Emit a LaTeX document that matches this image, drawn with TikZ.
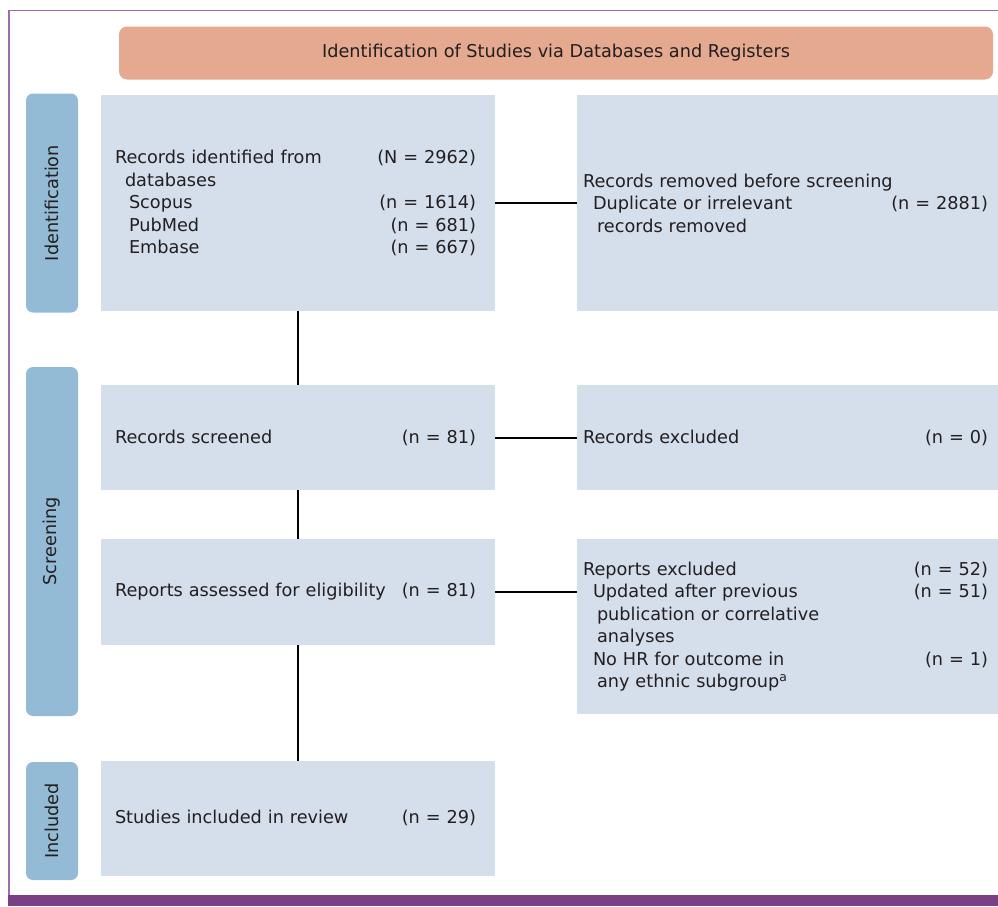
\documentclass[tikz,border=0pt]{standalone}
\usepackage{fontspec}
\setmainfont{DejaVu Sans}
\definecolor{txt}{HTML}{231F20}
\definecolor{orangebox}{HTML}{E4A98F}
\definecolor{lightbox}{HTML}{D5DFEC}
\definecolor{sidebox}{HTML}{93BBD5}
\definecolor{purplebar}{HTML}{7B3F85}
\definecolor{purpleline}{HTML}{9E6CA8}
\tikzset{
  base/.style={inner sep=0pt, outer sep=0pt, text=txt, font=\fontsize{17.7}{22.5}\selectfont},
  lbox/.style={base, fill=lightbox, draw=none},
  sbox/.style={base, fill=sidebox, draw=none, rounded corners=7pt},
  tbox/.style={base, fill=orangebox, draw=none, rounded corners=8pt},
  ltext/.style={base, anchor=west, align=left, text width=361pt},
  rtext/.style={base, anchor=west, align=left, text width=405pt},
  sidelabel/.style={base, rotate=90},
  conn/.style={draw=black, line width=2pt},
}
\begin{document}
\begin{tikzpicture}[x=1pt, y=-1pt]
\useasboundingbox (0,0) rectangle (998,906);
% frame
\draw[purpleline, line width=1.5pt] (9,896) -- (9,10.5) -- (998,10.5);
\fill[purplebar] (8,895) rectangle (998,906);
% title
\node[tbox, minimum width=874pt, minimum height=53pt] (title) at (556,53) {Identification of Studies via Databases and Registers};
% side labels
\node[sbox, minimum width=52pt, minimum height=219pt] (s1) at (52,203) {};
\node[sidelabel] (s1t) at (s1.center) {Identification};
\node[sbox, minimum width=52pt, minimum height=349pt] (s2) at (52,541.5) {};
\node[sidelabel] (s2t) at (s2.center) {Screening};
\node[sbox, minimum width=52pt, minimum height=118pt] (s3) at (52,821) {};
\node[sidelabel] (s3t) at (s3.center) {Included};
% left boxes
\node[lbox, minimum width=394pt, minimum height=216pt] (L1) at (298,203) {};
\node[lbox, minimum width=394pt, minimum height=105pt] (L2) at (298,437.5) {};
\node[lbox, minimum width=394pt, minimum height=106pt] (L3) at (298,592) {};
\node[lbox, minimum width=394pt, minimum height=115pt] (L4) at (298,818.5) {};
% right boxes
\node[lbox, minimum width=421pt, minimum height=216pt] (R1) at (787.5,203) {};
\node[lbox, minimum width=421pt, minimum height=105pt] (R2) at (787.5,437.5) {};
\node[lbox, minimum width=421pt, minimum height=175pt] (R3) at (787.5,626.5) {};
% texts
\node[ltext] (L1t) at (115,203) {Records identified from\hfill(N = 2962)\\
\hspace*{10pt}databases\\
\hspace*{14pt}Scopus\hfill(n = 1614)\\
\hspace*{14pt}PubMed\hfill(n = 681)\\
\hspace*{14pt}Embase\hfill(n = 667)};
\node[ltext] (L2t) at (115,437.5) {Records screened\hfill(n = 81)};
\node[ltext] (L3t) at (115,592) {Reports assessed for eligibility\hfill(n = 81)};
\node[ltext] (L4t) at (115,818) {Studies included in review\hfill(n = 29)};
\node[rtext] (R1t) at (583,203) {Records removed before screening\\
\hspace*{10pt}Duplicate or irrelevant\hfill(n = 2881)\\
\hspace*{14pt}records removed};
\node[rtext] (R2t) at (583,437.5) {Records excluded\hfill(n = 0)};
\node[rtext] (R3t) at (583,626.5) {Reports excluded\hfill(n = 52)\\
\hspace*{10pt}Updated after previous\hfill(n = 51)\\
\hspace*{14pt}publication or correlative\\
\hspace*{14pt}analyses\\
\hspace*{10pt}No HR for outcome in\hfill(n = 1)\\
\hspace*{14pt}any ethnic subgroup\textsuperscript{a}};
% connectors
\draw[conn] (L1.east) -- (R1.west);
\draw[conn] (L2.east) -- (R2.west);
\draw[conn] (L3.east |- L3t.west) -- (R3.west |- L3t.west);
\draw[conn] (L1.south) -- (L2.north);
\draw[conn] (L2.south) -- (L3.north);
\draw[conn] (L3.south) -- (L4.north);
\end{tikzpicture}
\end{document}
